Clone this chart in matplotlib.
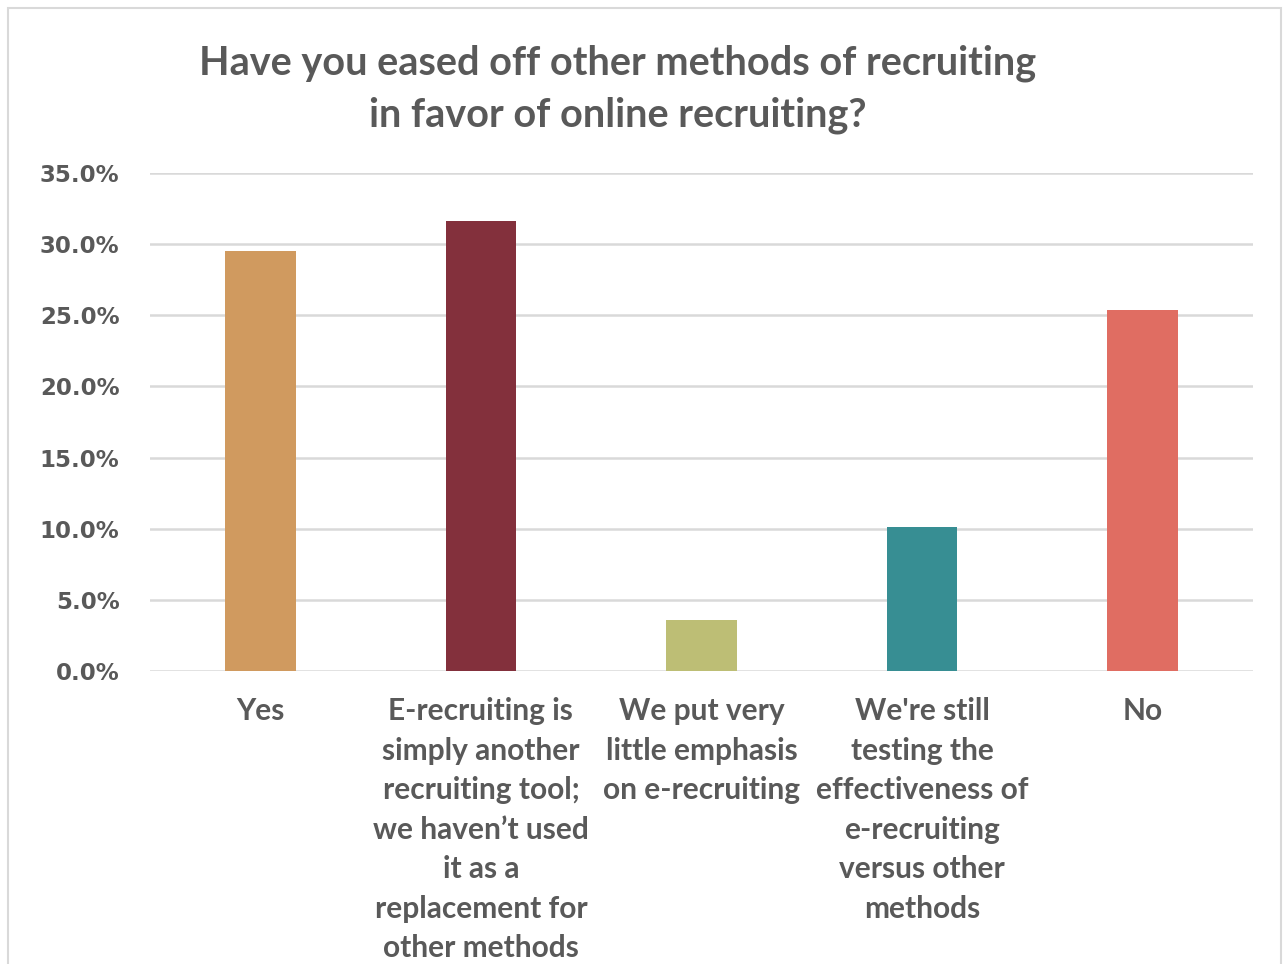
import matplotlib.pyplot as plt
from matplotlib.patches import Rectangle
from matplotlib.ticker import FuncFormatter, MultipleLocator

categories = [
    "Yes",
    "E-recruiting is\nsimply another\nrecruiting tool;\nwe haven\u2019t used\nit as a\nreplacement for\nother methods",
    "We put very\nlittle emphasis\non e-recruiting",
    "We're still\ntesting the\neffectiveness of\ne-recruiting\nversus other\nmethods",
    "No",
]
shares = [29.5, 31.6, 3.6, 10.1, 25.4]
colors = ["#D09A5F", "#83303C", "#BDBE75", "#378E93", "#E06D62"]

text_color = "#595959"
grid_color = "#D9D9D9"

fig = plt.figure(figsize=(12.83, 9.64), dpi=100)
W, H = 1283, 964

# light frame around the chart area
fig.patches.append(Rectangle((8 / W, -0.05), (1281 - 8) / W, 1.05 - 8 / H,
                             transform=fig.transFigure, fill=False,
                             edgecolor=grid_color, linewidth=1.5))

ax = fig.add_axes([150 / W, 1 - 671 / H, (1253 - 150) / W, (671 - 173) / H])

x = range(len(categories))
ax.bar(x, shares, width=0.32, color=colors, zorder=3)

ax.set_xlim(-0.5, len(categories) - 0.5)
ax.set_ylim(0, 35)
ax.yaxis.set_major_locator(MultipleLocator(5))
ax.yaxis.set_major_formatter(FuncFormatter(lambda v, p: f"{v:.1f}%"))
ax.grid(axis="y", color=grid_color, linewidth=1.8, zorder=0)
ax.tick_params(axis="both", length=0)
ax.tick_params(axis="y", pad=22)
for lbl in ax.get_yticklabels():
    lbl.set_fontfamily("DejaVu Sans")
    lbl.set_fontweight("bold")
    lbl.set_fontsize(16.5)
    lbl.set_color(text_color)

ax.set_xticks(list(x))
ax.set_xticklabels(categories, fontfamily="Lato", fontweight="bold",
                   fontsize=21.5, color=text_color, linespacing=1.5)
ax.tick_params(axis="x", pad=19)

for s in ax.spines.values():
    s.set_visible(False)

fig.text(618 / W, 1 - 89 / H,
         "Have you eased off other methods of recruiting\nin favor of online recruiting?",
         ha="center", va="center", fontfamily="Lato", fontweight="bold",
         fontsize=28.5, color=text_color, linespacing=1.5)

fig.savefig("out.png", dpi=100, facecolor="white")
